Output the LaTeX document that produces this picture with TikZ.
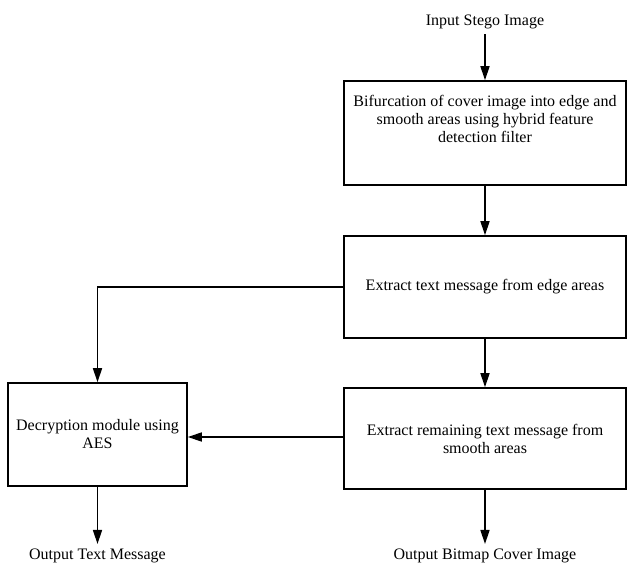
\documentclass[tikz,border=0pt]{standalone}
\usepackage{fontspec}
\setmainfont{Liberation Serif}
\usetikzlibrary{arrows.meta}
\begin{document}
\begin{tikzpicture}[x=1pt,y=-1pt,
 box/.style={draw, line width=1.6pt, inner sep=0pt, align=center, font=\fontsize{16}{18}\selectfont},
 lbl/.style={inner sep=0pt, outer sep=5pt, font=\fontsize{16}{18}\selectfont},
 arr/.style={line width=1.6pt, -{Triangle[length=14pt,width=9pt]}}]
\useasboundingbox[fill=white] (0,0) rectangle (627,568);
\node[lbl] (in) at (485,22) {Input Stego Image};
\node[box, minimum width=282pt, minimum height=104pt, text depth=28pt] (b1) at (485,133)
  {Bifurcation of cover image into edge and\\smooth areas using hybrid feature\\detection filter};
\node[box, minimum width=282pt, minimum height=102pt] (b2) at (485,287)
  {Extract text message from edge areas};
\node[box, minimum width=282pt, minimum height=101pt] (b3) at (485,438.5)
  {Extract remaining text message from\\smooth areas};
\node[box, minimum width=179pt, minimum height=103pt] (dec) at (97.5,434.5)
  {Decryption module using\\AES};
\node[lbl] (o1) at (97.5,556) {Output Text Message};
\node[lbl] (o2) at (485,556) {Output Bitmap Cover Image};
\draw[arr] (in) -- (b1);
\draw[arr] (b1) -- (b2);
\draw[arr] (b2) -- (b3);
\draw[arr] (b2.west) -| (dec.north);
\draw[arr] ([yshift=1.5pt]b3.west) -- ([yshift=1.5pt]b3.west -| dec.east);
\draw[arr] (dec) -- (o1);
\draw[arr] (b3) -- (o2);
\end{tikzpicture}
\end{document}
